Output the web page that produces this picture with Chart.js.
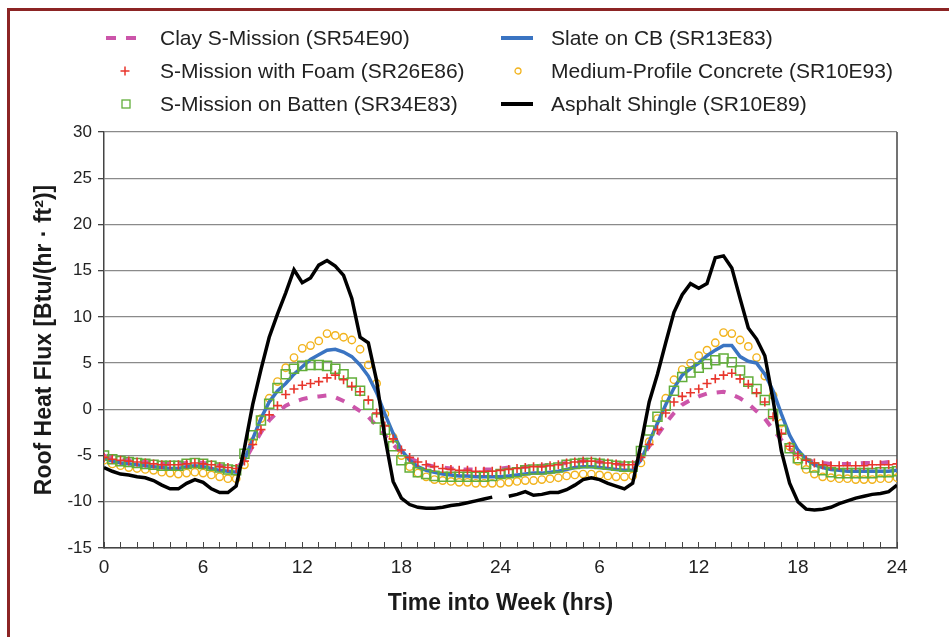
<!DOCTYPE html>
<html>
<head>
<meta charset="utf-8">
<script src="https://cdn.jsdelivr.net/npm/chart.js@4"></script>
<style>
body { margin: 0; background: #fff; }
#wrap { position: relative; width: 949px; height: 637px; overflow: hidden; font-family: "Liberation Sans", Arial, sans-serif; }
#frame { position: absolute; left: 7px; top: 8px; width: 960px; height: 650px; border-left: 3px solid #8c2424; border-top: 3px solid #8c2424; }
canvas { position: absolute; left: 0; top: 0; }
.leg { position: absolute; font-size: 21px; line-height: 24px; color: #222; white-space: nowrap; }
.sym { position: absolute; }
</style>
</head>
<body>
<div id="wrap">
  <div id="frame"></div>
  <canvas id="myChart" width="949" height="637"></canvas>
</div>
<script>
// sample times (hrs into the two-day window)
const hours = [0,0.5,1,1.5,2,2.5,3,3.5,4,4.5,5,5.5,6,6.5,7,7.5,8,8.5,9,9.5,
  10,10.5,11,11.5,12,12.5,13,13.5,14,14.5,15,15.5,16,16.5,17,17.5,18,18.5,19,19.5,
  20,20.5,21,21.5,22,22.5,23,23.5,24,24.5,25,25.5,26,26.5,27,27.5,28,28.5,29,29.5,
  30,30.5,31,31.5,32,32.5,33,33.5,34,34.5,35,35.5,36,36.5,37,37.5,38,38.5,39,39.5,
  40,40.5,41,41.5,42,42.5,43,43.5,44,44.5,45,45.5,46,46.5,47,47.5,48];

const clayMission = [-5.0,-5.3,-5.4,-5.5,-5.6, -5.7,-5.8,-5.9,-5.9,-5.9, -5.8,-5.7,-5.8,-5.9,-6.1,
  -6.2,-6.3,-5.6,-4.0,-2.5, -1.2,-0.3,0.4,0.8,1.1, 1.3,1.4,1.5,1.3,0.9, 0.4,-0.2,-0.8,-1.8,-2.8,
  -3.8,-4.7,-5.3,-5.7,-6.0, -6.2,-6.3,-6.4,-6.5,-6.5, -6.5,-6.5,-6.5,-6.4,-6.3, -6.3,-6.2,-6.1,-6.1,-6.0,
  -5.9,-5.8,-5.7,-5.6,-5.6, -5.7,-5.8,-5.9,-6.0,-6.0, -5.3,-4.0,-2.8,-1.5,-0.4, 0.5,1.0,1.4,1.7,1.8,
  1.9,1.6,1.2,0.6,-0.2, -1.0,-2.2,-3.3,-4.3,-5.0, -5.4,-5.7,-5.8,-5.9,-5.9, -5.9,-5.9,-5.8,-5.8,-5.8,
  -5.7,-5.6];

const missionFoam = [-5.2,-5.4,-5.5,-5.6,-5.7, -5.8,-5.9,-6.0,-6.0,-6.0, -5.9,-5.8,-5.9,-6.0,-6.2,
  -6.3,-6.4,-5.6,-3.8,-2.2, -0.6,0.4,1.6,2.2,2.6, 2.8,3.0,3.4,3.7,3.2, 2.5,1.9,1.0,-0.4,-1.8,
  -3.2,-4.4,-5.2,-5.7,-6.0, -6.2,-6.4,-6.5,-6.6,-6.6, -6.7,-6.7,-6.7,-6.6,-6.5, -6.4,-6.3,-6.2,-6.2,-6.1,
  -6.0,-5.8,-5.7,-5.6,-5.6, -5.7,-5.8,-5.9,-6.0,-6.0, -5.2,-3.8,-2.2,-0.4,0.8, 1.4,1.8,2.2,2.8,3.3,
  3.7,3.9,3.3,2.7,1.8, 0.8,-0.8,-2.6,-4.0,-5.0, -5.5,-5.8,-6.0,-6.1,-6.1, -6.1,-6.1,-6.1,-6.0,-6.0,
  -6.0,-5.9];

const missionBatten = [-5.0,-5.4,-5.6,-5.7,-5.8, -5.9,-6.0,-6.1,-6.1,-6.1, -5.9,-5.8,-5.9,-6.1,-6.3,
  -6.5,-6.6,-4.8,-2.8,-1.2, 0.6,2.3,3.8,4.4,4.7, 4.8,4.8,4.7,4.4,3.8, 2.9,2.0,0.5,-1.0,-2.2,
  -4.0,-5.5,-6.3,-6.8,-7.0, -7.2,-7.3,-7.3,-7.3,-7.3, -7.3,-7.3,-7.2,-7.0,-6.9, -6.8,-6.6,-6.5,-6.5,-6.4,
  -6.3,-6.0,-5.9,-5.8,-5.8, -5.9,-6.0,-6.1,-6.2,-6.2, -4.5,-2.3,-0.8,0.4,2.0, 3.5,4.0,4.5,4.9,5.3,
  5.5,5.1,4.2,3.0,2.2, 1.0,-0.5,-2.2,-4.2,-5.3, -5.9,-6.3,-6.6,-6.8,-6.9, -6.9,-6.9,-6.9,-6.9,-6.8,
  -6.8,-6.7];

const slateCB = [-5.3,-5.6,-5.8,-5.9,-6.0, -6.1,-6.2,-6.3,-6.4,-6.4, -6.2,-6.1,-6.2,-6.4,-6.6,
  -6.7,-6.8,-5.5,-3.2,-1.0, 0.8,2.0,2.8,3.8,4.6, 5.4,5.9,6.4,6.5,6.2, 5.7,4.8,3.6,1.8,-0.5,
  -2.6,-4.4,-5.5,-6.2,-6.6, -6.8,-7.0,-7.1,-7.2,-7.2, -7.3,-7.3,-7.3,-7.3,-7.2, -7.1,-7.0,-6.9,-6.9,-6.8,
  -6.7,-6.5,-6.3,-6.2,-6.2, -6.3,-6.4,-6.5,-6.6,-6.6, -5.5,-3.5,-1.5,0.5,2.3, 3.7,4.4,5.0,5.8,6.4,
  6.9,6.9,5.7,5.2,5.0, 3.8,2.0,-0.5,-2.8,-4.4, -5.4,-6.0,-6.3,-6.5,-6.6, -6.7,-6.7,-6.7,-6.7,-6.7,
  -6.7,-6.6];

const concrete = [-5.5,-5.9,-6.1,-6.3,-6.4, -6.5,-6.6,-6.8,-6.9,-7.0, -6.9,-6.8,-6.9,-7.1,-7.3,
  -7.5,-7.5,-6.0,-3.5,-1.0, 1.2,3.0,4.5,5.6,6.6, 6.9,7.4,8.2,8.0,7.8, 7.5,6.5,4.8,2.8,-0.5,
  -3.0,-5.0,-6.2,-6.9,-7.3, -7.6,-7.7,-7.8,-7.9,-7.9, -8.0,-8.0,-8.0,-8.0,-7.9, -7.8,-7.7,-7.7,-7.6,-7.5,
  -7.4,-7.2,-7.1,-7.0,-7.0, -7.1,-7.2,-7.3,-7.3,-7.2, -5.8,-3.5,-1.0,1.2,3.2, 4.3,5.0,5.8,6.4,7.2,
  8.3,8.2,7.5,6.8,5.6, 3.6,1.5,-1.5,-4.0,-5.6, -6.5,-7.0,-7.3,-7.4,-7.5, -7.5,-7.6,-7.6,-7.6,-7.5,
  -7.5,-7.4];

const asphalt = [-6.3,-6.7,-7.0,-7.1,-7.3, -7.4,-7.7,-8.2,-8.6,-8.6, -8.0,-7.6,-7.9,-8.6,-9.0,
  -9.0,-8.3,-4.2,0.5,4.3, 7.8,10.3,12.6,15.1,13.7, 14.2,15.6,16.1,15.5,14.5, 12.0,7.8,7.2,3.1,-3.0,
  -7.8,-9.6,-10.3,-10.6,-10.7, -10.7,-10.6,-10.4,-10.3,-10.1, -9.9,-9.7,-9.5,null,-9.4, -9.2,-8.9,-9.3,-9.2,-9.0,
  -9.0,-8.7,-8.2,-7.6,-7.4, -7.6,-8.0,-8.3,-8.6,-8.0, -3.8,0.8,3.8,7.2,10.5, 12.4,13.6,13.1,13.6,16.4,
  16.6,15.3,12.0,8.8,7.6, 5.8,1.0,-4.5,-8.0,-10.0, -10.8,-10.9,-10.8,-10.6,-10.2, -9.9,-9.6,-9.4,-9.2,-9.1,
  -8.9,-8.2];

const seriesNames = ['Clay S-Mission (SR54E90)', 'S-Mission with Foam (SR26E86)', 'S-Mission on Batten (SR34E83)',
  'Slate on CB (SR13E83)', 'Medium-Profile Concrete (SR10E93)', 'Asphalt Shingle (SR10E89)'];
const seriesColors = ['#cc55aa', '#e8352b', '#62ae3a', '#3a74c2', '#f2b31c', '#000000'];
const xTickLabels = ['0', '6', '12', '18', '24', '6', '12', '18', '24'];

const pts = vals => vals.map((v, i) => ({ x: hours[i], y: v }));

// legend (html)
const legendSpots = [[160, 38], [160, 71], [160, 104], [551, 38], [551, 71], [551, 104]];
const legendSyms = [
  '<svg width="34" height="8"><line x1="0" y1="4" x2="10" y2="4" stroke="#cc55aa" stroke-width="4"/><line x1="20" y1="4" x2="30" y2="4" stroke="#cc55aa" stroke-width="4"/></svg>',
  '<svg width="10" height="10"><line x1="5" y1="0.5" x2="5" y2="9.5" stroke="#e8352b" stroke-width="1.5"/><line x1="0.5" y1="5" x2="9.5" y2="5" stroke="#e8352b" stroke-width="1.5"/></svg>',
  '<svg width="10" height="10"><rect x="1" y="1" width="8" height="8" fill="none" stroke="#62ae3a" stroke-width="1.3"/></svg>',
  '<svg width="32" height="6"><line x1="0" y1="3" x2="32" y2="3" stroke="#3a74c2" stroke-width="4"/></svg>',
  '<svg width="10" height="10"><circle cx="5" cy="5" r="3" fill="none" stroke="#f2b31c" stroke-width="1.3"/></svg>',
  '<svg width="32" height="6"><line x1="0" y1="3" x2="32" y2="3" stroke="#000" stroke-width="4"/></svg>'
];
const symCenters = [[123, 38], [125, 71], [126, 104], [517, 38], [518, 71], [517, 104]];
const symSizes = [[34, 8], [10, 10], [10, 10], [32, 6], [10, 10], [32, 6]];
const wrap = document.getElementById('wrap');
seriesNames.forEach((name, i) => {
  const t = document.createElement('div');
  t.className = 'leg';
  t.textContent = name;
  t.style.left = legendSpots[i][0] + 'px';
  t.style.top = (legendSpots[i][1] - 12) + 'px';
  wrap.appendChild(t);
  const s = document.createElement('div');
  s.className = 'sym';
  s.innerHTML = legendSyms[i];
  s.style.left = (symCenters[i][0] - symSizes[i][0] / 2) + 'px';
  s.style.top = (symCenters[i][1] - symSizes[i][1] / 2) + 'px';
  s.style.height = symSizes[i][1] + 'px';
  s.style.lineHeight = '0';
  wrap.appendChild(s);
});

// right edge of the plot box
const boxEdge = {
  id: 'boxEdge',
  beforeDatasetsDraw(chart) {
    const { ctx, chartArea } = chart;
    ctx.save();
    ctx.strokeStyle = '#444';
    ctx.lineWidth = 1.5;
    ctx.beginPath();
    ctx.moveTo(chartArea.right, chartArea.top);
    ctx.lineTo(chartArea.right, chartArea.bottom);
    ctx.stroke();
    ctx.restore();
  }
};

Chart.defaults.font.family = '"Liberation Sans", Arial, sans-serif';

const ctx = document.getElementById('myChart');

new Chart(ctx, {
  type: 'line',
  data: {
    datasets: [
      { label: seriesNames[0], data: pts(clayMission), borderColor: seriesColors[0], borderWidth: 4,
        borderDash: [9, 10], pointRadius: 0, order: 5 },
      { label: seriesNames[1], data: pts(missionFoam), borderColor: seriesColors[1], showLine: false,
        pointStyle: 'cross', pointRadius: 4.5, pointBorderWidth: 1.6, order: 1 },
      { label: seriesNames[2], data: pts(missionBatten), borderColor: seriesColors[2], showLine: false,
        pointStyle: 'rect', pointRadius: 6.4, pointBorderWidth: 1.5, pointBackgroundColor: 'rgba(0,0,0,0)', order: 2 },
      { label: seriesNames[3], data: pts(slateCB), borderColor: seriesColors[3], borderWidth: 3.5,
        pointRadius: 0, order: 3 },
      { label: seriesNames[4], data: pts(concrete), borderColor: seriesColors[4], showLine: false,
        pointStyle: 'circle', pointRadius: 3.7, pointBorderWidth: 1.4, pointBackgroundColor: 'rgba(0,0,0,0)', order: 4 },
      { label: seriesNames[5], data: pts(asphalt), borderColor: seriesColors[5], borderWidth: 3.5,
        pointRadius: 0, spanGaps: false, order: 0 }
    ]
  },
  options: {
    responsive: false,
    animation: false,
    devicePixelRatio: 1,
    layout: { padding: { top: 132, right: 52, left: 0, bottom: 0 } },
    plugins: { legend: { display: false }, tooltip: { enabled: false } },
    scales: {
      x: {
        type: 'linear', min: 0, max: 48,
        afterFit: s => { s.height = 89; },
        ticks: {
          stepSize: 1, autoSkip: false, maxRotation: 0, padding: 14, color: '#222', font: { size: 19 },
          callback: v => (v % 6 === 0 ? xTickLabels[v / 6] : '')
        },
        grid: { drawOnChartArea: false, tickLength: -6, color: '#444', lineWidth: 1 },
        border: { color: '#444', width: 1.5 },
        title: { display: true, text: 'Time into Week (hrs)', color: '#1a1a1a',
          font: { size: 23, weight: 'bold' }, padding: { top: 0, bottom: 20 } }
      },
      y: {
        min: -15, max: 30,
        afterFit: s => { s.width = 104; },
        ticks: { stepSize: 5, padding: 6, color: '#222', font: { size: 17 } },
        grid: { color: '#8a8a8a', lineWidth: 1.3, tickLength: 6, tickColor: '#444' },
        border: { color: '#444', width: 1.5 },
        title: { display: true, text: 'Roof Heat Flux [Btu/(hr · ft²)]', color: '#1a1a1a',
          font: { size: 23, weight: 'bold' }, padding: { top: 31, bottom: 0 } }
      }
    }
  },
  plugins: [boxEdge]
});
</script>
</body>
</html>
